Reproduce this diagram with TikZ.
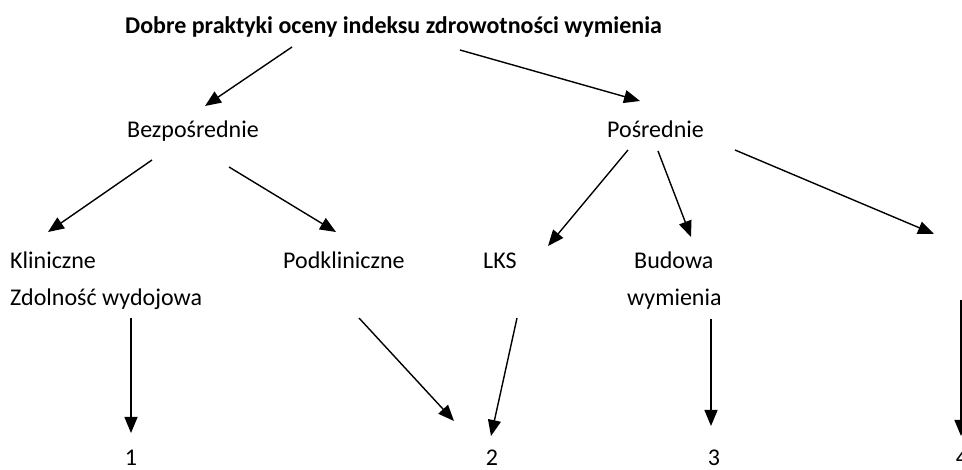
\documentclass[tikz,border=0pt]{standalone}
\usepackage{fontspec}
\setmainfont{Carlito}
\usetikzlibrary{arrows.meta}
\begin{document}
\begin{tikzpicture}[x=1pt,y=-1pt,
  lbl/.style={inner sep=0pt,anchor=base west,font=\fontsize{24}{28}\selectfont},
  num/.style={inner sep=0pt,anchor=base,font=\fontsize{24}{28}\selectfont},
  arr/.style={line width=1.4pt,-{Triangle[length=16pt,width=13pt]}}]
\useasboundingbox (0,0) rectangle (962,470);
% texts
\node[lbl,font=\fontsize{24}{28}\selectfont\bfseries] (title) at (125,34) {Dobre praktyki oceny indeksu zdrowotności wymienia};
\node[lbl] (bezp) at (127,138) {Bezpośrednie};
\node[lbl] (posr) at (607,138) {Pośrednie};
\node[lbl] (klin) at (10,269) {Kliniczne};
\node[lbl] (zdol) at (10,306) {Zdolność wydojowa};
\node[lbl] (podk) at (283,269) {Podkliniczne};
\node[lbl] (lks) at (483,269) {LKS};
\node[lbl] (bud) at (634,269) {Budowa};
\node[lbl] (wym) at (627,306) {wymienia};
\node[num] (n1) at (131,465) {1};
\node[num] (n2) at (492,465) {2};
\node[num] (n3) at (714,465) {3};
\node[num] (n4) at (962,465) {4};
% connector end points
\coordinate (t1) at (292,47);  \coordinate (h1) at (205,106);
\coordinate (t2) at (460,50);  \coordinate (h2) at (640,101);
\coordinate (t3) at (152,160); \coordinate (h3) at (48,232);
\coordinate (t4) at (229,167); \coordinate (h4) at (336,232);
\coordinate (t5) at (628,150); \coordinate (h5) at (548,246);
\coordinate (t6) at (658,151); \coordinate (h6) at (691,237);
\coordinate (t7) at (735,150); \coordinate (h7) at (934,234);
\coordinate (t8) at (131,318); \coordinate (h8) at (131,433);
\coordinate (t9) at (359,318); \coordinate (h9) at (454,421);
\coordinate (t10) at (517,318); \coordinate (h10) at (491,436);
\coordinate (t11) at (711,319); \coordinate (h11) at (711,426);
\coordinate (t12) at (961,300); \coordinate (h12) at (961,436);
\draw[arr] (t1) -- (h1);
\draw[arr] (t2) -- (h2);
\draw[arr] (t3) -- (h3);
\draw[arr] (t4) -- (h4);
\draw[arr] (t5) -- (h5);
\draw[arr] (t6) -- (h6);
\draw[arr] (t7) -- (h7);
\draw[arr] (t8) -- (h8);
\draw[arr] (t9) -- (h9);
\draw[arr] (t10) -- (h10);
\draw[arr] (t11) -- (h11);
\draw[arr] (t12) -- (h12);
\end{tikzpicture}
\end{document}
